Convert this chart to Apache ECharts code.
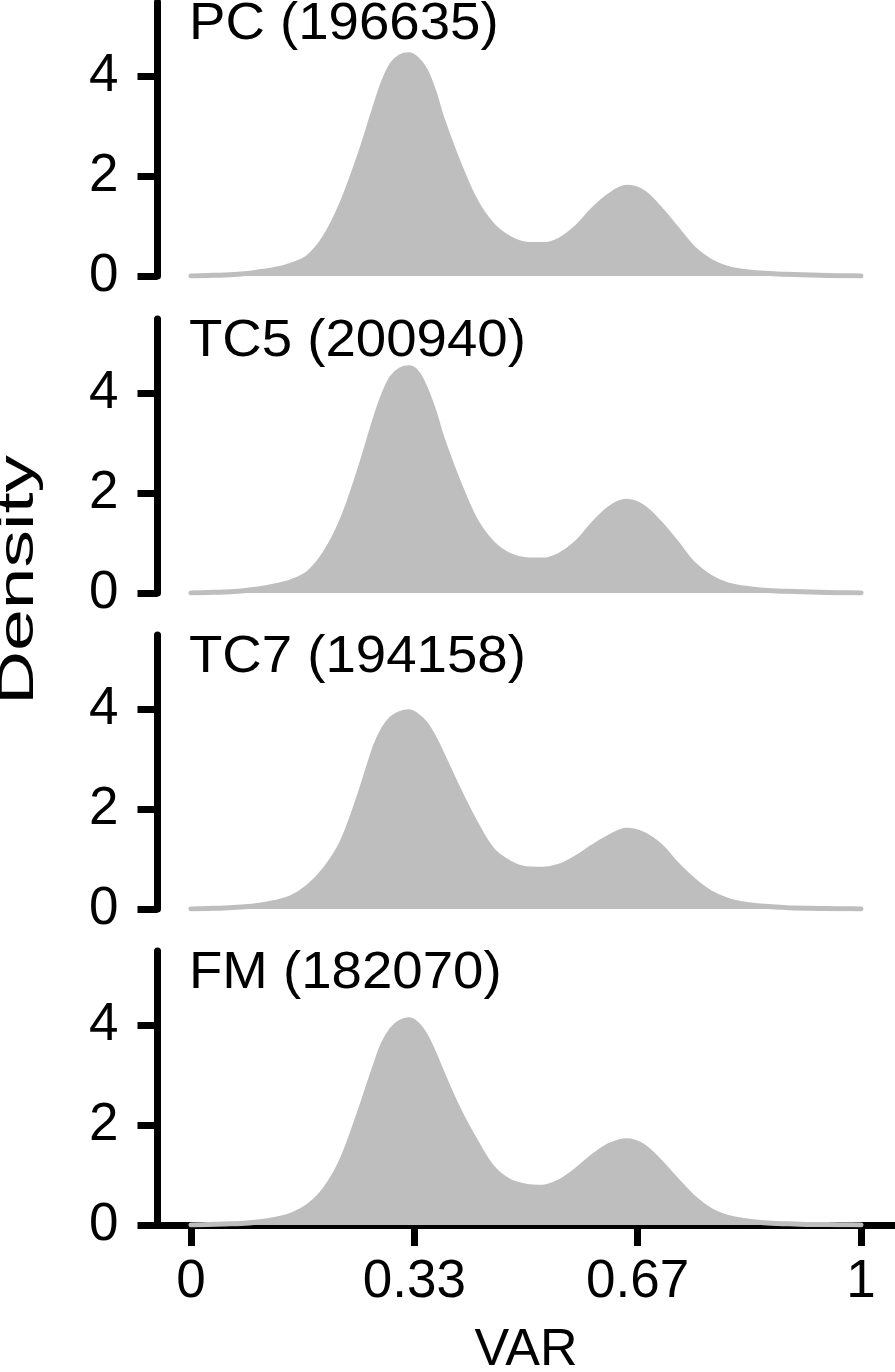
<!DOCTYPE html>
<html>
<head>
<meta charset="utf-8">
<script src="https://cdn.jsdelivr.net/npm/echarts@6/dist/echarts.min.js"></script>
<style>
html,body{margin:0;padding:0;background:#fff;}
#chart{width:895px;height:1372px;}
</style>
</head>
<body>
<div id="chart"></div>
<script>
// ---- data ----
const xs = [0,0.025,0.05,0.075,0.1,0.125,0.15,0.175,0.2,0.225,0.25,0.275,0.2875,0.3,0.3125,0.325,0.3375,0.35,0.3625,0.375,0.4,0.425,0.45,0.475,0.5,0.525,0.55,0.575,0.6,0.625,0.65,0.675,0.7,0.725,0.75,0.775,0.8,0.825,0.85,0.875,0.9,0.925,0.95,0.975,1];
const panelTitles = ['PC (196635)','TC5 (200940)','TC7 (194158)','FM (182070)'];
const densPC  = [0,0.01,0.02,0.04,0.08,0.13,0.22,0.38,0.78,1.45,2.35,3.4,3.9,4.25,4.4,4.44,4.35,4.12,3.7,3.15,2.25,1.5,1.02,0.76,0.64,0.63,0.72,0.97,1.33,1.62,1.78,1.68,1.35,0.95,0.55,0.3,0.16,0.09,0.06,0.04,0.03,0.02,0.01,0.005,0];
const densTC5 = [0,0.01,0.02,0.04,0.08,0.14,0.23,0.4,0.8,1.45,2.4,3.5,3.98,4.33,4.48,4.52,4.42,4.1,3.65,3.1,2.2,1.45,1.0,0.76,0.67,0.66,0.76,1.0,1.38,1.7,1.84,1.72,1.4,1.0,0.58,0.32,0.17,0.1,0.06,0.04,0.03,0.02,0.01,0.005,0];
const densTC7 = [0,0.01,0.02,0.04,0.07,0.13,0.23,0.45,0.8,1.33,2.22,3.26,3.62,3.83,3.93,3.96,3.88,3.72,3.45,3.1,2.38,1.72,1.18,0.93,0.81,0.8,0.86,1.03,1.25,1.45,1.58,1.5,1.27,0.9,0.58,0.33,0.18,0.1,0.06,0.04,0.02,0.015,0.01,0.005,0];
const densFM  = [0,0.01,0.02,0.03,0.06,0.11,0.2,0.38,0.72,1.3,2.2,3.2,3.65,3.93,4.07,4.12,4.03,3.8,3.45,3.05,2.3,1.68,1.15,0.88,0.78,0.76,0.87,1.1,1.38,1.6,1.69,1.58,1.27,0.9,0.55,0.3,0.16,0.09,0.05,0.03,0.02,0.01,0.01,0.005,0];
const densities = [densPC, densTC5, densTC7, densFM];
const xTicks = [0, 1/3, 2/3, 1];
const xTickLabels = ['0','0.33','0.67','1'];
const yTicks = [0, 2, 4];
const xName = 'VAR';
const yName = 'Density';

// ---- layout ----
const FONT = 'Liberation Sans, Arial, sans-serif';
const zeroY = [276, 593, 909, 1225];
const panelH = 274;
const gridLeft = 157.5, gridRight = 0.5;
const gray = '#BEBEBE';

const grids = [], xAxes = [], yAxes = [], series = [], graphics = [];
densities.forEach((d, i) => {
  grids.push({left: gridLeft, right: gridRight, top: zeroY[i] - panelH, height: panelH,
              containLabel: false, outerBoundsMode: 'none'});
  const last = i === densities.length - 1;
  xAxes.push({
    type: 'value', gridIndex: i, min: -0.05, max: 1.05, show: last, position: 'bottom',
    name: last ? xName : '', nameLocation: 'middle', nameGap: 100,
    nameTextStyle: {fontSize: 52, fontFamily: FONT, color: '#000'},
    axisLine: {show: true, onZero: false, lineStyle: {color: '#000', width: 7}},
    axisTick: {show: true, length: 21, lineStyle: {color: '#000', width: 7}, customValues: xTicks},
    axisLabel: {show: true, fontSize: 53, fontFamily: FONT, color: '#000', margin: 31, customValues: xTicks,
      formatter: v => { const k = xTicks.findIndex(t => Math.abs(t - v) < 1e-6); return k >= 0 ? xTickLabels[k] : ''; }},
    splitLine: {show: false}
  });
  yAxes.push({
    type: 'value', gridIndex: i, min: 0, max: 5.5, position: 'left',
    axisLine: {show: true, onZero: false, lineStyle: {color: '#000', width: 7}},
    axisTick: {show: true, length: 20, lineStyle: {color: '#000', width: 7}, customValues: yTicks},
    axisLabel: {show: true, fontSize: 53, fontFamily: FONT, color: '#000', margin: 39, customValues: yTicks},
    splitLine: {show: false}
  });
  series.push({
    type: 'line', xAxisIndex: i, yAxisIndex: i,
    data: xs.map((x, j) => [x, d[j]]),
    smooth: 0.35, showSymbol: false, silent: true,
    lineStyle: {color: gray, width: 5, cap: 'round', join: 'round'},
    areaStyle: {color: gray, opacity: 1},
    z: 1
  });
  graphics.push({
    type: 'text', x: 189, y: zeroY[i] - 251, scaleX: 1.05,
    style: {text: panelTitles[i], font: '52px ' + FONT, fill: '#000', align: 'left', verticalAlign: 'middle'}
  });
});
graphics.push({
  type: 'text', x: 19, y: 580, rotation: Math.PI / 2, scaleX: 1.5,
  style: {text: yName, font: '50px ' + FONT, fill: '#000', align: 'center', verticalAlign: 'middle'}
});

const chart = echarts.init(document.getElementById('chart'), null, {renderer: 'canvas'});
chart.setOption({
  animation: false,
  backgroundColor: '#fff',
  grid: grids, xAxis: xAxes, yAxis: yAxes, series: series,
  graphic: graphics
});
</script>
</body>
</html>
